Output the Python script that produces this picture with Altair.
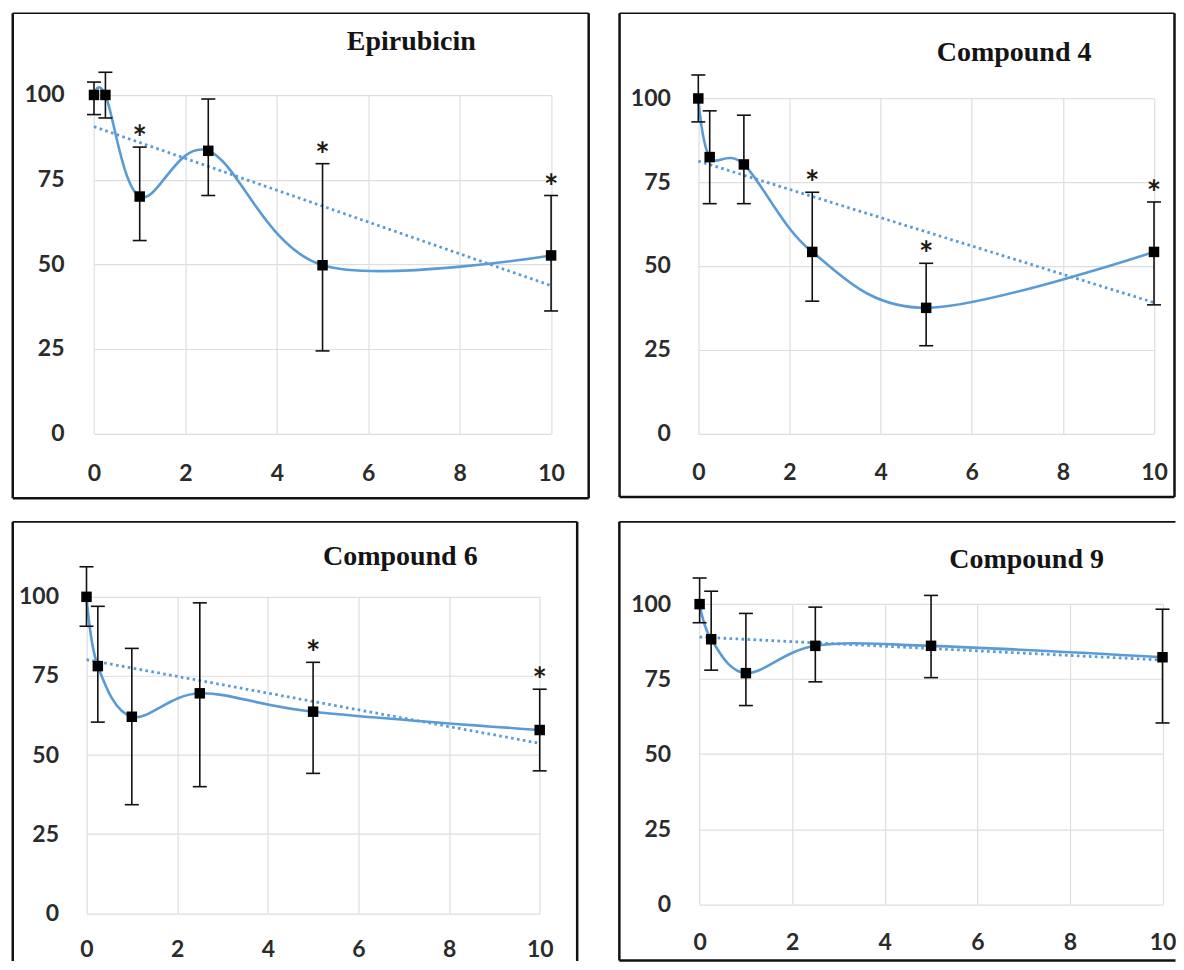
import altair as alt
import pandas as pd

# ---------------- data ----------------
X_VALS = [0, 0.25, 1, 2.5, 5, 10]

TITLES = ["Epirubicin", "Compound 4", "Compound 6", "Compound 9"]

EPI_MEAN = [100, 100, 70, 83.5, 49.7, 52.6]
EPI_LOW = [94.2, 93.2, 57, 70.3, 24.4, 36.2]
EPI_HIGH = [103.8, 106.7, 84.6, 98.8, 79.7, 70.3]
EPI_SIG = [False, False, True, False, True, True]

C4_MEAN = [100, 82.5, 80.3, 54.2, 37.5, 54.2]
C4_LOW = [93, 68.6, 68.6, 39.5, 26.2, 38.4]
C4_HIGH = [107, 96.3, 95, 72, 50.8, 69.1]
C4_SIG = [False, False, False, True, True, True]

C6_MEAN = [100, 78.1, 62.1, 69.5, 63.7, 57.9]
C6_LOW = [90.7, 60.4, 34.3, 40, 44.2, 45]
C6_HIGH = [109.5, 97, 83.7, 98.1, 79.3, 70.8]
C6_SIG = [False, False, False, False, True, True]

C9_MEAN = [100, 88.3, 77, 86.1, 86.1, 82.3]
C9_LOW = [93.8, 78, 66.2, 74.1, 75.5, 60.4]
C9_HIGH = [108.7, 104.3, 96.9, 99, 102.9, 98.3]
C9_SIG = [False, False, False, False, False, False]

X_TICKS = [0, 2, 4, 6, 8, 10]
Y_TICKS = [0, 25, 50, 75, 100]

BLUE = "#5b9bd5"
LABEL_FONT = "Lato"
LABEL_SIZE = 23
INK = "#111111"


def frame_bars(W, H, sides):
    """Decorative panel border: thin filled bars along the edges of the panel box."""
    one = pd.DataFrame({"k": [0]})
    t, s = 0.8, 1.25  # half thickness of top / other edges
    spec = {
        "top": (0, W, -t, t),
        "bottom": (0, W, H - s, H + s),
        "left": (-s, s, 0, H),
        "right": (W - s, W + s, 0, H),
    }
    out = []
    for side in sides:
        x1, x2, y1, y2 = spec[side]
        out.append(alt.Chart(one).mark_rect(color=INK).encode(
            x=alt.value(x1), x2=alt.value(x2), y=alt.value(y1), y2=alt.value(y2)))
    return out


def panel(title, mean, low, high, sig, box, area, title_at, sides, ypad, xlab_center):
    # box: panel frame (left, top, right, bottom); area: plot rect (x@0, x@10, y@100, y@0)
    left, top, right, bottom = box
    W, H = right - left, bottom - top
    xr = [area[0] - left, area[1] - left]
    yr = [area[3] - top, area[2] - top]

    df = pd.DataFrame({"x": X_VALS, "y": mean, "lo": low, "hi": high,
                       "sig": ["*" if s else "" for s in sig]})
    base = alt.Chart(df)
    xs = alt.Scale(domain=[0, 10], range=xr, nice=False, zero=False)
    ys = alt.Scale(domain=[0, 100], range=yr, nice=False, zero=False)
    # x labels drawn by a top-oriented axis pushed down below the plot rectangle
    x_axis_pos = (xlab_center - top) + 0.36 * LABEL_SIZE + round(0.21 * LABEL_SIZE)
    xax = alt.Axis(values=X_TICKS, grid=True, domain=False, ticks=False, orient="top",
                   offset=-x_axis_pos, labelPadding=0, labelFlush=False,
                   labelOverlap=False, title=None)
    yax = alt.Axis(values=Y_TICKS, grid=True, domain=False, ticks=False, offset=-xr[0],
                   labelPadding=ypad, labelOverlap=False, title=None)
    X = alt.X("x:Q", scale=xs, axis=xax)
    Y = alt.Y("y:Q", scale=ys, axis=yax)

    trend = base.transform_regression("x", "y", method="linear", extent=[0, 10]).mark_line(
        color=BLUE, strokeWidth=2.8, strokeDash=[2.6, 3.4]).encode(x=X, y=Y)
    smooth = base.mark_line(interpolate="cardinal", color=BLUE, strokeWidth=2.6).encode(x=X, y=Y)
    err = base.mark_rule(color=INK, strokeWidth=1.6).encode(
        x=X, y=alt.Y("lo:Q", scale=ys), y2="hi:Q")
    cap_hi = base.mark_rule(color=INK, strokeWidth=1.6, xOffset=-7, x2Offset=7).encode(
        x=X, x2="x:Q", y=alt.Y("hi:Q", scale=ys))
    cap_lo = base.mark_rule(color=INK, strokeWidth=1.6, xOffset=-7, x2Offset=7).encode(
        x=X, x2="x:Q", y=alt.Y("lo:Q", scale=ys))
    pts = base.mark_point(shape="square", filled=True, size=110, color="#000", opacity=1).encode(x=X, y=Y)
    stars = base.transform_filter("datum.sig != ''").mark_text(
        font=LABEL_FONT, fontWeight="bold", fontSize=34, baseline="alphabetic", dy=3,
        color="#1e1a14").encode(x=X, y=alt.Y("hi:Q", scale=ys), text="sig:N")
    ttl = alt.Chart(pd.DataFrame({"t": [title]})).mark_text(
        font="Liberation Serif", fontWeight="bold", fontSize=28, align="center",
        baseline="alphabetic", color="#141414").encode(
        x=alt.value(title_at[0] - left), y=alt.value(title_at[1] - top), text="t:N")

    layers = [trend, smooth, err, cap_hi, cap_lo, pts, stars, ttl] + frame_bars(W, H, sides)
    return alt.layer(*layers).properties(width=W, height=H)


p1 = panel(TITLES[0], EPI_MEAN, EPI_LOW, EPI_HIGH, EPI_SIG,
           (12, 12.7, 588.3, 498), (93.3, 550.7, 94.5, 433.3), (410.8, 49.5),
           ("top", "bottom", "left", "right"), 30, 471.7)
p2 = panel(TITLES[1], C4_MEAN, C4_LOW, C4_HIGH, C4_SIG,
           (619.2, 12.7, 1174.5, 496.7), (698, 1154, 98, 433.3), (1014, 60.5),
           ("top", "bottom", "left", "right"), 28, 471.5)
p3 = panel(TITLES[2], C6_MEAN, C6_LOW, C6_HIGH, C6_SIG,
           (12, 521.7, 576.8, 961), (85.8, 539.3, 596.7, 913.3), (399.8, 565),
           ("top", "left", "right"), 28, 948.3)
p4 = panel(TITLES[3], C9_MEAN, C9_LOW, C9_HIGH, C9_SIG,
           (619, 521.7, 1175.5, 960.5), (699.3, 1162.5, 604, 904.3), (1026.5, 567.5),
           ("top", "bottom", "left"), 29, 941.7)

row1 = alt.hconcat(p1, p2, spacing=27.2)
row2 = alt.hconcat(p3, p4, spacing=38)

chart = alt.vconcat(row1, row2, spacing=21).properties(
    padding={"left": 2.75, "top": 3.9, "right": 0, "bottom": 0}
).configure_view(stroke=None).configure_axis(
    labelFont=LABEL_FONT, labelFontSize=LABEL_SIZE, labelFontWeight="bold", labelColor="#2b2b2b",
    gridColor="#dedede", gridWidth=1.2
)

chart.save("out.html", embed_options={"renderer": "svg", "actions": False})
